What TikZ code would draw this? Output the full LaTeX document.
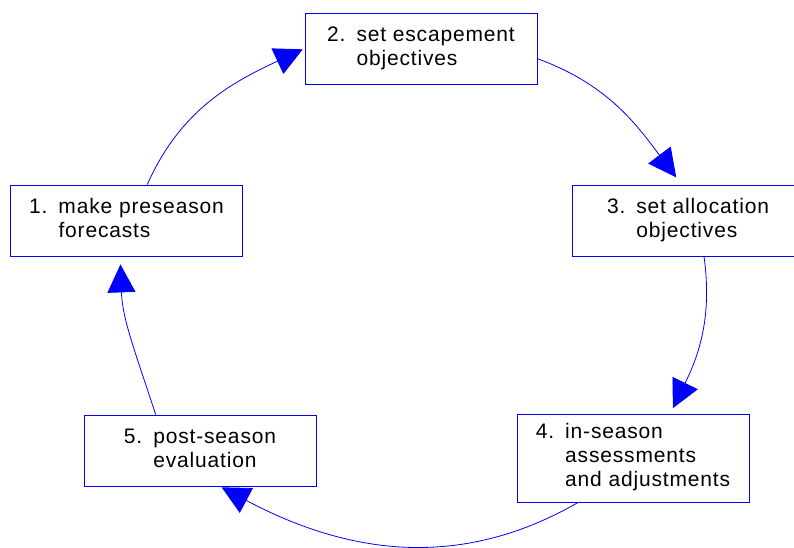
\documentclass[tikz,border=0pt]{standalone}
\usepackage{fontspec}
\setmainfont{Liberation Sans}[LetterSpace=4]
\usetikzlibrary{arrows.meta}
\tikzset{inner sep=8pt}

\newcommand{\stagetext}[2]{\begin{tabular}[t]{@{}l@{}}#1\end{tabular}\hspace{11pt}\begin{tabular}[t]{@{}l@{}}#2\end{tabular}}

\begin{document}
\begin{tikzpicture}[x=1pt,y=1pt,
            stage/.style={rectangle,draw=blue,line width=0.8pt,minimum width=232pt,minimum height=71pt,
                font=\fontsize{21}{24}\selectfont},
            cycle/.style={draw=blue,line width=0.8pt,-{Triangle[length=28pt,width=28pt]}}
            ]
            \clip (0,0) rectangle (794,548);
            \node[stage] (b1) at (126.5,327.5) {\stagetext{1.}{make preseason\\forecasts}};
            \node[stage] (b2) at (421,499.5) {\stagetext{2.}{set escapement\\objectives}};
            \node[stage] (b3) at (688,327.5) {\stagetext{3.}{set allocation\\objectives}};
            \node[stage] (b4) at (633,90) {\stagetext{4.}{in-season\\assessments\\and adjustments}};
            \node[stage] (b5) at (200,97.5) {\stagetext{5.}{post-season\\evaluation}};
            \draw[cycle,shorten >=2pt] (b1.60) to[out=66,in=205] (b2.west);
            \draw[cycle,shorten >=9pt] (b2.-5) to[out=-20,in=127] (b3.100);
            \draw[cycle,shorten >=6pt] (b3.-66) to[out=-82,in=64] (b4.50);
            \draw[cycle,shorten >=2pt] (b4.-141) to[out=-150,in=-28] (b5.-61);
            \draw[cycle,shorten >=8pt] (b5.141) to[out=108,in=-88] (b1.-100);
        \end{tikzpicture}
\end{document}
